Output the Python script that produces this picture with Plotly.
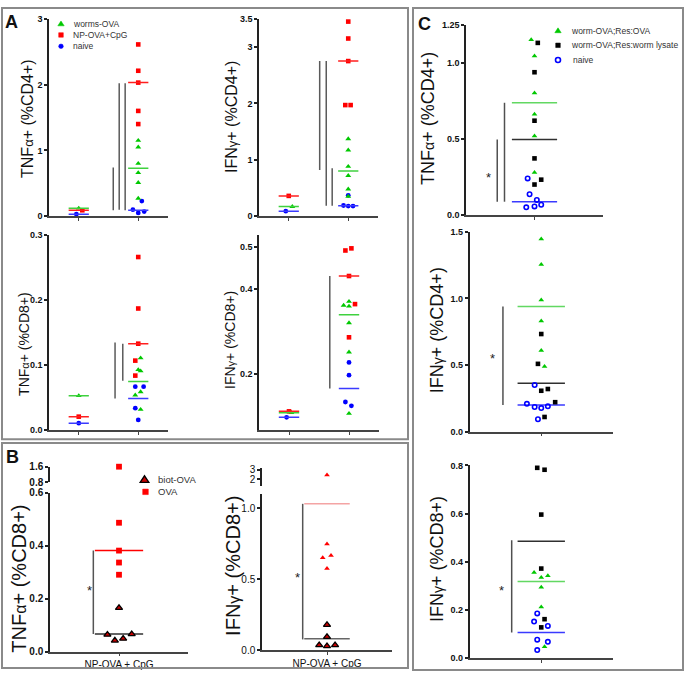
import plotly.graph_objects as go

W, H = 685, 677

# ======================= DATA =======================
# ---- Panel A (two unlabelled columns: 0 = left group, 1 = right group) ----
# A1: TNFα+ (%CD4+)
A1_WORMS_G = [0, 1, 1, 1, 1, 1, 1]
A1_WORMS_Y = [0.12, 1.15, 1.05, 0.80, 0.66, 0.51, 0.27]
A1_WORMS_DX = [0, 0, 0, 0, 0, 0, 0]
A1_WORMS_MED = [0.12, 0.73]
A1_NP_G = [0, 1, 1, 1, 1, 1]
A1_NP_Y = [0.09, 2.61, 2.21, 2.03, 1.60, 1.40]
A1_NP_DX = [0.06, 0, 0, 0, 0, 0]
A1_NP_MED = [0.09, 2.03]
A1_NAIVE_G = [0, 1, 1, 1, 1]
A1_NAIVE_Y = [0.03, 0.23, 0.10, 0.05, 0.07]
A1_NAIVE_DX = [-0.04, 0.06, -0.09, 0.0, 0.10]
A1_NAIVE_MED = [0.03, 0.09]
A1_SIG_X = [0.58, 0.68, 0.78]
A1_SIG_Y0 = [0.09, 0.10, 0.09]
A1_SIG_Y1 = [0.74, 2.02, 2.02]
A1_TICKS = [0, 1, 2, 3]
A1_TICKTEXT = ["0", "1", "2", "3"]

# A2: IFNγ+ (%CD4+)
A2_WORMS_G = [0, 1, 1, 1, 1, 1, 1]
A2_WORMS_Y = [0.17, 1.37, 1.17, 0.88, 0.72, 0.48, 0.35]
A2_WORMS_DX = [0.06, 0, 0, 0, 0, 0, 0]
A2_WORMS_MED = [0.17, 0.80]
A2_NP_G = [0, 1, 1, 1, 1, 1]
A2_NP_Y = [0.36, 3.45, 3.15, 2.75, 1.97, 1.97]
A2_NP_DX = [0, 0, 0, 0, -0.05, 0.04]
A2_NP_MED = [0.36, 2.75]
A2_NAIVE_G = [0, 1, 1, 1, 1]
A2_NAIVE_Y = [0.09, 0.37, 0.19, 0.18, 0.18]
A2_NAIVE_DX = [-0.05, 0, -0.08, 0, 0.08]
A2_NAIVE_MED = [0.09, 0.185]
A2_SIG_X = [0.52, 0.63, 0.73]
A2_SIG_Y0 = [0.82, 0.185, 0.185]
A2_SIG_Y1 = [2.75, 2.75, 0.85]
A2_TICKS = [0, 1, 2, 3, 3.5]
A2_TICKTEXT = ["0", "1", "2", "3", "3.5"]

# A3: TNFα+ (%CD8+)
A3_WORMS_G = [0, 1, 1, 1, 1, 1, 1]
A3_WORMS_Y = [0.053, 0.111, 0.093, 0.091, 0.054, 0.059, 0.032]
A3_WORMS_DX = [0, 0.04, 0, 0.04, -0.05, 0.04, 0.04]
A3_WORMS_MED = [0.053, 0.075]
A3_NP_G = [0, 1, 1, 1, 1, 1]
A3_NP_Y = [0.021, 0.266, 0.187, 0.133, 0.107, 0.084]
A3_NP_DX = [0, 0, 0, 0, -0.05, -0.05]
A3_NP_MED = [0.021, 0.133]
A3_NAIVE_G = [0, 1, 1, 1, 1]
A3_NAIVE_Y = [0.011, 0.067, 0.067, 0.034, 0.016]
A3_NAIVE_DX = [0, -0.05, 0.09, -0.05, 0]
A3_NAIVE_MED = [0.011, 0.049]
A3_SIG_X = [0.61, 0.74]
A3_SIG_Y0 = [0.049, 0.076]
A3_SIG_Y1 = [0.135, 0.133]
A3_TICKS = [0, 0.1, 0.2, 0.3]
A3_TICKTEXT = ["0.0", "0.1", "0.2", "0.3"]

# A4: IFNγ+ (%CD8+)
A4_WORMS_G = [0, 1, 1, 1, 1, 1, 1]
A4_WORMS_Y = [0.110, 0.371, 0.362, 0.360, 0.321, 0.252, 0.108]
A4_WORMS_DX = [0.04, 0, -0.09, 0, 0, 0, 0]
A4_WORMS_MED = [0.110, 0.340]
A4_NP_G = [0, 1, 1, 1, 1, 1]
A4_NP_Y = [0.113, 0.491, 0.496, 0.431, 0.365, 0.287]
A4_NP_DX = [0, -0.06, 0.04, 0, 0.10, 0]
A4_NP_MED = [0.113, 0.431]
A4_NAIVE_G = [0, 1, 1, 1, 1]
A4_NAIVE_Y = [0.099, 0.228, 0.198, 0.135, 0.126]
A4_NAIVE_DX = [-0.04, 0, 0, -0.06, 0.04]
A4_NAIVE_MED = [0.099, 0.167]
A4_SIG_X = [0.68]
A4_SIG_Y0 = [0.167]
A4_SIG_Y1 = [0.431]
A4_TICKS = [0.2, 0.4, 0.5]
A4_TICKTEXT = ["0.2", "0.4", "0.5"]

A_LEGEND = ["worms-OVA", "NP-OVA+CpG", "naive"]

# ---- Panel B (one category) ----
B_CATEGORY = ["NP-OVA + CpG"]
# B1: TNFα+ (%CD8+)
B1_OVA_Y = [1.6, 0.486, 0.381, 0.336, 0.290]
B1_OVA_DX = [0, 0, 0, 0, 0]
B1_OVA_LINE = 0.381
B1_BIOT_Y = [0.165, 0.064, 0.042, 0.049, 0.066]
B1_BIOT_DX = [0, -0.084, -0.03, 0.03, 0.092]
B1_BIOT_LINE = 0.067
B1_SIG = [-0.186, 0.067, 0.381]
B1_STAR = [-0.217, 0.237]
B1_LOW_TICKS = [0, 0.2, 0.4, 0.6]
B1_LOW_TICKTEXT = ["0.0", "0.2", "0.4", "0.6"]
B1_HIGH_TICKS = [0.8, 1.6]
B1_HIGH_TICKTEXT = ["0.8", "1.6"]
# B2: IFNγ+ (%CD8+)
B2_OVA_Y = [2.46, 0.747, 0.650, 0.667, 0.574]
B2_OVA_DX = [0, 0, -0.033, 0.031, 0]
B2_OVA_LINE = 1.03
B2_BIOT_Y = [0.178, 0.093, 0.035, 0.028, 0.035]
B2_BIOT_DX = [0, 0, -0.06, 0, 0.062]
B2_BIOT_LINE = 0.079
B2_SIG = [-0.187, 0.075, 1.03]
B2_STAR = [-0.23, 0.528]
B2_LOW_TICKS = [0, 0.5, 1.0]
B2_LOW_TICKTEXT = ["0.0", "0.5", "1.0"]
B2_HIGH_TICKS = [2, 3]
B2_HIGH_TICKTEXT = ["2", "3"]
B_LEGEND = ["biot-OVA", "OVA"]

# ---- Panel C (one category) ----
# C1: TNFα+ (%CD4+)
C1_OVA_Y = [1.152, 1.046, 0.803, 0.663, 0.519, 0.280]
C1_OVA_DX = [-0.024, 0, 0, 0, 0, 0]
C1_OVA_LINE = 0.738
C1_WORM_Y = [1.132, 0.939, 0.620, 0.372, 0.232, 0.200]
C1_WORM_DX = [0.024, 0, 0, 0, 0.049, 0]
C1_WORM_LINE = 0.497
C1_NAIVE_Y = [0.240, 0.136, 0.099, 0.056, 0.067, 0.050]
C1_NAIVE_DX = [-0.05, -0.036, 0.017, 0, 0.049, -0.06]
C1_NAIVE_LINE = 0.087
C1_SIG_X = [-0.272, -0.219]
C1_SIG_Y0 = [0.087, 0.087]
C1_SIG_Y1 = [0.497, 0.738]
C1_STAR = [-0.334, 0.26]
C1_TICKS = [0, 0.5, 1.0, 1.25]
C1_TICKTEXT = ["0.0", "0.5", "1.0", "1.25"]
# C2: IFNγ+ (%CD4+)
C2_OVA_Y = [1.446, 1.255, 0.989, 0.831, 0.610, 0.490]
C2_OVA_DX = [0, 0, 0, 0, 0, 0.023]
C2_OVA_LINE = 0.94
C2_WORM_Y = [0.733, 0.509, 0.307, 0.320, 0.221, 0.110]
C2_WORM_DX = [0, -0.023, 0, 0.046, 0.097, 0.023]
C2_WORM_LINE = 0.364
C2_NAIVE_Y = [0.209, 0.350, 0.185, 0.177, 0.190, 0.093]
C2_NAIVE_DX = [-0.10, -0.046, -0.046, 0, 0.046, -0.023]
C2_NAIVE_LINE = 0.20
C2_SIG_X = [-0.267]
C2_SIG_Y0 = [0.20]
C2_SIG_Y1 = [0.94]
C2_STAR = [-0.34, 0.565]
C2_TICKS = [0, 0.5, 1.0, 1.5]
C2_TICKTEXT = ["0.0", "0.5", "1.0", "1.5"]
# C3: IFNγ+ (%CD8+)
C3_OVA_Y = [0.356, 0.335, 0.342, 0.295, 0.213, 0.048]
C3_OVA_DX = [-0.05, 0, 0.046, 0, 0, 0.023]
C3_OVA_LINE = 0.318
C3_WORM_Y = [0.790, 0.782, 0.596, 0.372, 0.162, 0.128]
C3_WORM_DX = [-0.028, 0.023, 0, 0, 0.023, 0]
C3_WORM_LINE = 0.485
C3_NAIVE_Y = [0.186, 0.152, 0.134, 0.077, 0.068, 0.034]
C3_NAIVE_DX = [-0.028, -0.05, 0.046, -0.028, 0.046, -0.028]
C3_NAIVE_LINE = 0.107
C3_SIG_X = [-0.206]
C3_SIG_Y0 = [0.107]
C3_SIG_Y1 = [0.489]
C3_STAR = [-0.276, 0.288]
C3_TICKS = [0, 0.2, 0.4, 0.6, 0.8]
C3_TICKTEXT = ["0.0", "0.2", "0.4", "0.6", "0.8"]
C_LEGEND = ["worm-OVA;Res:OVA", "worm-OVA;Res:worm lysate", "naive"]

# ======================= STYLE =======================
FONT = "Liberation Sans, Arial, Helvetica, sans-serif"
GREEN, GREEN_LINE = "#00c800", "#3fd13f"
C_GREEN_LINE = "#62d862"
RED, RED_LINE = "#ff0000", "#ff1e1e"
BLUE, BLUE_LINE = "#0000ff", "#3a3aff"
BLACK_LINE = "#303030"
PINK_LINE = "#f4a4a4"
DARKRED = "#c80000"
SIG = "#555555"
BOX = "#8a8a8a"
AXC = "#222222"

fig = go.Figure()


def px(x):
    return x / W


def py(y):
    return 1 - y / H


def markers(ax, xs, ys, color, symbol, size, lw=0, lc=None):
    fig.add_trace(go.Scatter(
        x=xs, y=ys, xaxis=ax[0], yaxis=ax[1], mode="markers",
        cliponaxis=False, showlegend=False, hoverinfo="skip",
        marker=dict(symbol=symbol, size=size, color=color,
                    line=dict(width=lw, color=lc if lc else color))))


def grouped(g, dx):
    return [gi + di for gi, di in zip(g, dx)]


def hlines(ax, groups, vals, color, hw, width=1.5):
    xs, ys = [], []
    for g, v in zip(groups, vals):
        xs += [g - hw, g + hw, None]
        ys += [v, v, None]
    fig.add_trace(go.Scatter(x=xs, y=ys, xaxis=ax[0], yaxis=ax[1], mode="lines",
                             cliponaxis=False, showlegend=False, hoverinfo="skip",
                             line=dict(color=color, width=width)))


def vlines(ax, xs_, y0s, y1s, color=SIG, width=1.5):
    xs, ys = [], []
    for x, a, b in zip(xs_, y0s, y1s):
        xs += [x, x, None]
        ys += [a, b, None]
    fig.add_trace(go.Scatter(x=xs, y=ys, xaxis=ax[0], yaxis=ax[1], mode="lines",
                             cliponaxis=False, showlegend=False, hoverinfo="skip",
                             line=dict(color=color, width=width)))


layout_axes = {}


def yaxis_def(n, anchor, y0, y1, rng, tv, tt, size=9, bold=True):
    key = "yaxis" if n == 1 else "yaxis%d" % n
    layout_axes[key] = dict(
        domain=[py(y1), py(y0)], anchor=anchor, range=rng,
        tickvals=tv, ticktext=tt, showline=True, linecolor=AXC, linewidth=1.5,
        ticks="outside", ticklen=3, tickwidth=1.5, tickcolor=AXC,
        showgrid=False, zeroline=False,
        tickfont=dict(family=FONT, size=size, color="#111",
                      weight="bold" if bold else "normal"))


def xaxis_def(n, anchor, x0, x1, rng, tv, tt=None, size=10):
    key = "xaxis" if n == 1 else "xaxis%d" % n
    layout_axes[key] = dict(
        domain=[px(x0), px(x1)], anchor=anchor, range=rng,
        tickvals=tv, ticktext=tt if tt else [""] * len(tv),
        showticklabels=bool(tt), showline=True, linecolor="#444", linewidth=1.5,
        ticks="outside", ticklen=3, tickwidth=1.2, tickcolor="#444",
        showgrid=False, zeroline=False,
        tickfont=dict(family=FONT, size=size, color="#111"))


# ---------------- Panel A plots ----------------
A_HW = 0.17
A_SPECS = [
    (("x", "y"), A1_WORMS_G, A1_WORMS_Y, A1_WORMS_DX, A1_WORMS_MED,
     A1_NP_G, A1_NP_Y, A1_NP_DX, A1_NP_MED,
     A1_NAIVE_G, A1_NAIVE_Y, A1_NAIVE_DX, A1_NAIVE_MED, A1_SIG_X, A1_SIG_Y0, A1_SIG_Y1),
    (("x2", "y2"), A2_WORMS_G, A2_WORMS_Y, A2_WORMS_DX, A2_WORMS_MED,
     A2_NP_G, A2_NP_Y, A2_NP_DX, A2_NP_MED,
     A2_NAIVE_G, A2_NAIVE_Y, A2_NAIVE_DX, A2_NAIVE_MED, A2_SIG_X, A2_SIG_Y0, A2_SIG_Y1),
    (("x3", "y3"), A3_WORMS_G, A3_WORMS_Y, A3_WORMS_DX, A3_WORMS_MED,
     A3_NP_G, A3_NP_Y, A3_NP_DX, A3_NP_MED,
     A3_NAIVE_G, A3_NAIVE_Y, A3_NAIVE_DX, A3_NAIVE_MED, A3_SIG_X, A3_SIG_Y0, A3_SIG_Y1),
    (("x4", "y4"), A4_WORMS_G, A4_WORMS_Y, A4_WORMS_DX, A4_WORMS_MED,
     A4_NP_G, A4_NP_Y, A4_NP_DX, A4_NP_MED,
     A4_NAIVE_G, A4_NAIVE_Y, A4_NAIVE_DX, A4_NAIVE_MED, A4_SIG_X, A4_SIG_Y0, A4_SIG_Y1),
]
for (ax, wg, wy, wdx, wmed, ng, ny, ndx, nmed, vg, vy, vdx, vmed, sx, sy0, sy1) in A_SPECS:
    vlines(ax, sx, sy0, sy1, color="#5a5a5a", width=1.5)
    markers(ax, grouped(vg, vdx), vy, BLUE, "circle", 4.8)
    markers(ax, grouped(wg, wdx), wy, GREEN, "triangle-up", 5.2)
    markers(ax, grouped(ng, ndx), ny, RED, "square", 4.6)
    hlines(ax, [0, 1], wmed, GREEN_LINE, A_HW)
    hlines(ax, [0, 1], nmed, RED_LINE, A_HW)
    hlines(ax, [0, 1], vmed, BLUE_LINE, A_HW)

A_XR = [-0.5, 1.5]
xaxis_def(1, "y", 49, 168, A_XR, [0, 1])
yaxis_def(1, "x", 13, 214, [0, 3], A1_TICKS, A1_TICKTEXT)
xaxis_def(2, "y2", 259, 378, A_XR, [0, 1])
yaxis_def(2, "x2", 13, 214, [0, 3.5], A2_TICKS, A2_TICKTEXT)
xaxis_def(3, "y3", 49, 168, A_XR, [0, 1])
yaxis_def(3, "x3", 233, 432, [0, 0.3], A3_TICKS, A3_TICKTEXT)
xaxis_def(4, "y4", 259, 379, A_XR, [0, 1])
yaxis_def(4, "x4", 233, 432, [0.0684, 0.5277], A4_TICKS, A4_TICKTEXT)

# ---------------- Panel B plots (broken y axes) ----------------
B_HW = 0.175


def split(ys, dxs, cut):
    lo = [(d, y) for d, y in zip(dxs, ys) if y <= cut]
    hi = [(d, y) for d, y in zip(dxs, ys) if y > cut]
    return lo, hi


def b_markers(xa, ylo, yhi, ys, dxs, cut, color, symbol, size, lw=0, lc=None):
    lo, hi = split(ys, dxs, cut)
    if lo:
        markers((xa, ylo), [d for d, _ in lo], [y for _, y in lo], color, symbol, size, lw, lc)
    if hi:
        markers((xa, yhi), [d for d, _ in hi], [y for _, y in hi], color, symbol, size, lw, lc)


# B1
vlines(("x5", "y5"), [B1_SIG[0]], [B1_SIG[1]], [B1_SIG[2]], color=SIG, width=1.5)
hlines(("x5", "y5"), [0], [B1_OVA_LINE], RED, B_HW)
hlines(("x5", "y5"), [0], [B1_BIOT_LINE], BLACK_LINE, B_HW)
b_markers("x5", "y5", "y6", B1_OVA_Y, B1_OVA_DX, 0.6, RED, "square", 5.8)
b_markers("x5", "y5", "y6", B1_BIOT_Y, B1_BIOT_DX, 0.6, DARKRED, "triangle-up", 6.2, 1.3, "#000")
xaxis_def(5, "y5", 50, 188, [-0.5, 0.5], [0], B_CATEGORY, size=10)
yaxis_def(5, "x5", 495.3, 657.3, [0, 0.6], B1_LOW_TICKS, B1_LOW_TICKTEXT, size=10)
yaxis_def(6, "x5", 469, 485, [0.8, 1.6], B1_HIGH_TICKS, B1_HIGH_TICKTEXT, size=10)

# B2
vlines(("x7", "y7"), [B2_SIG[0]], [B2_SIG[1]], [B2_SIG[2]], color=SIG, width=1.5)
hlines(("x7", "y7"), [0], [B2_OVA_LINE], PINK_LINE, B_HW)
hlines(("x7", "y7"), [0], [B2_BIOT_LINE], "#666666", B_HW)
b_markers("x7", "y7", "y8", B2_OVA_Y, B2_OVA_DX, 1.1, RED, "triangle-up", 5)
b_markers("x7", "y7", "y8", B2_BIOT_Y, B2_BIOT_DX, 1.1, DARKRED, "triangle-up", 6.2, 1.3, "#000")
xaxis_def(7, "y7", 262, 392, [-0.5, 0.5], [0], B_CATEGORY, size=10)
yaxis_def(7, "x7", 496.7, 655.7, [0, 1.1], B2_LOW_TICKS, B2_LOW_TICKTEXT, size=10, bold=False)
yaxis_def(8, "x7", 470, 489, [1.3, 3.2], B2_HIGH_TICKS, B2_HIGH_TICKTEXT, size=10, bold=False)

# ---------------- Panel C plots ----------------
C_HW = 0.165
C_SPECS = [
    (("x9", "y9"), C1_OVA_Y, C1_OVA_DX, C1_OVA_LINE, C1_WORM_Y, C1_WORM_DX, C1_WORM_LINE,
     C1_NAIVE_Y, C1_NAIVE_DX, C1_NAIVE_LINE, C1_SIG_X, C1_SIG_Y0, C1_SIG_Y1),
    (("x10", "y10"), C2_OVA_Y, C2_OVA_DX, C2_OVA_LINE, C2_WORM_Y, C2_WORM_DX, C2_WORM_LINE,
     C2_NAIVE_Y, C2_NAIVE_DX, C2_NAIVE_LINE, C2_SIG_X, C2_SIG_Y0, C2_SIG_Y1),
    (("x11", "y11"), C3_OVA_Y, C3_OVA_DX, C3_OVA_LINE, C3_WORM_Y, C3_WORM_DX, C3_WORM_LINE,
     C3_NAIVE_Y, C3_NAIVE_DX, C3_NAIVE_LINE, C3_SIG_X, C3_SIG_Y0, C3_SIG_Y1),
]
for (ax, oy, odx, oline, wy, wdx, wline, ny, ndx, nline, sx, sy0, sy1) in C_SPECS:
    vlines(ax, sx, sy0, sy1, color="#505050", width=1.5)
    hlines(ax, [0], [oline], C_GREEN_LINE, C_HW)
    hlines(ax, [0], [wline], BLACK_LINE, C_HW)
    hlines(ax, [0], [nline], BLUE_LINE, C_HW)
    markers(ax, [0 + d for d in ndx], ny, BLUE, "circle-open", 4.4, 1.6, BLUE)
    markers(ax, [0 + d for d in odx], oy, GREEN, "triangle-up", 5)
    markers(ax, [0 + d for d in wdx], wy, "#000000", "square", 4.6)

xaxis_def(9, "y9", 466, 603, [-0.5, 0.5], [0])
yaxis_def(9, "x9", 19.3, 212.7, [0, 1.25], C1_TICKS, C1_TICKTEXT)
xaxis_def(10, "y10", 469.5, 613, [-0.5, 0.5], [0])
yaxis_def(10, "x10", 230, 433.3, [0, 1.5], C2_TICKS, C2_TICKTEXT)
xaxis_def(11, "y11", 469.5, 613, [-0.5, 0.5], [0])
yaxis_def(11, "x11", 467.7, 664, [0, 0.8], C3_TICKS, C3_TICKTEXT)

# ---------------- annotations ----------------
ann = []


def text(x, y, s, size, angle=0, bold=False, xanchor="center", color="#111"):
    ann.append(dict(x=px(x), y=py(y), xref="paper", yref="paper", text=s,
                    showarrow=False, textangle=angle, xanchor=xanchor, yanchor="middle",
                    font=dict(family=FONT, size=size, color=color,
                              weight="bold" if bold else "normal")))


def greek(ch, size):
    return "<span style='font-size:%dpx'>%s</span>" % (size, ch)


# panel letters
text(11, 16, "A", 18, bold=True)
text(12, 459, "B", 18, bold=True)
text(424, 18, "C", 18, bold=True)

# y-axis titles
text(28, 115, "TNF" + greek("α", 13) + "+ (%CD4+)", 16, -90)
text(232, 113, "IFN" + greek("γ", 13) + "+ (%CD4+)", 16, -90)
text(24, 344, "TNF" + greek("α", 11) + "+ (%CD8+)", 14, -90)
text(230, 340, "IFN" + greek("γ", 11) + "+ (%CD8+)", 14, -90)
text(19, 583, "TNF" + greek("α", 16) + "+ (%CD8+)", 20, -90)
text(233, 570, "IFN" + greek("γ", 16) + "+ (%CD8+)", 20, -90)
text(428, 115, "TNF" + greek("α", 14) + "+ (%CD4+)", 18, -90)
text(437, 330, "IFN" + greek("γ", 14) + "+ (%CD4+)", 18, -90)
text(437, 563, "IFN" + greek("γ", 14) + "+ (%CD8+)", 18, -90)

# significance stars (data coordinates)
for (xr, yr, st) in [("x5", "y5", B1_STAR), ("x7", "y7", B2_STAR), ("x9", "y9", C1_STAR),
                     ("x10", "y10", C2_STAR), ("x11", "y11", C3_STAR)]:
    ann.append(dict(x=st[0], y=st[1], xref=xr, yref=yr, text="*", showarrow=False,
                    xanchor="center", yanchor="middle", yshift=-2,
                    font=dict(family=FONT, size=13, color="#222")))

# legends (text)
for i, s in enumerate(A_LEGEND):
    text(71, 18 + i * 11.5, s, 8.5, xanchor="left", color="#333")
for i, s in enumerate(B_LEGEND):
    text(156, 482 + i * 12.6, s, 9.5, xanchor="left", color="#333")
for i, s in enumerate(C_LEGEND):
    text(569 + (2 if i == 2 else 0), 25 + i * 15, s, 8.5, xanchor="left", color="#333")

# ---------------- shapes: panel frames + legend keys ----------------
shapes = []


def rect_px(x0, y0, x1, y1, line=BOX, width=2, fill=None):
    shapes.append(dict(type="rect", xref="paper", yref="paper",
                       x0=px(x0), x1=px(x1), y0=py(y1), y1=py(y0),
                       line=dict(color=line, width=width),
                       fillcolor=fill if fill else "rgba(0,0,0,0)"))


def tri_px(cx, cy, s, fill, lc=None, lw=0):
    pts = [(cx - 0.58 * s, cy + 0.4 * s), (cx + 0.58 * s, cy + 0.4 * s), (cx, cy - 0.5 * s)]
    path = "M %f %f L %f %f L %f %f Z" % tuple(v for p in pts for v in (px(p[0]), py(p[1])))
    shapes.append(dict(type="path", xref="paper", yref="paper", path=path,
                       fillcolor=fill, line=dict(color=lc if lc else fill, width=lw if lw else 0.5)))


def sq_px(cx, cy, s, fill):
    shapes.append(dict(type="rect", xref="paper", yref="paper",
                       x0=px(cx - s / 2), x1=px(cx + s / 2), y0=py(cy + s / 2), y1=py(cy - s / 2),
                       fillcolor=fill, line=dict(color=fill, width=0.5)))


def circ_px(cx, cy, s, color, open_=False):
    shapes.append(dict(type="circle", xref="paper", yref="paper",
                       x0=px(cx - s / 2), x1=px(cx + s / 2), y0=py(cy + s / 2), y1=py(cy - s / 2),
                       fillcolor="rgba(0,0,0,0)" if open_ else color,
                       line=dict(color=color, width=1.6 if open_ else 0.5)))


rect_px(2, 2, 408, 441)
rect_px(2, 445, 408, 674)
rect_px(413, 2, 683, 676)

tri_px(61, 18, 5.5, GREEN)
sq_px(61, 29.5, 4.6, RED)
circ_px(61, 41, 4.6, BLUE)

tri_px(144.5, 482, 7.5, DARKRED, "#000", 1.3)
sq_px(145.5, 494.6, 5.6, RED)

tri_px(558, 25, 5.5, GREEN)
sq_px(558, 40, 4.6, "#000000")
circ_px(558, 55, 5, BLUE, open_=True)

fig.update_layout(
    width=W, height=H, margin=dict(l=0, r=0, t=0, b=0),
    paper_bgcolor="white", plot_bgcolor="rgba(0,0,0,0)",
    showlegend=False, font=dict(family=FONT),
    annotations=ann, shapes=shapes, **layout_axes)

fig.write_html("out.html", config={"displayModeBar": False},
               post_script="document.body.style.margin='0px';")
